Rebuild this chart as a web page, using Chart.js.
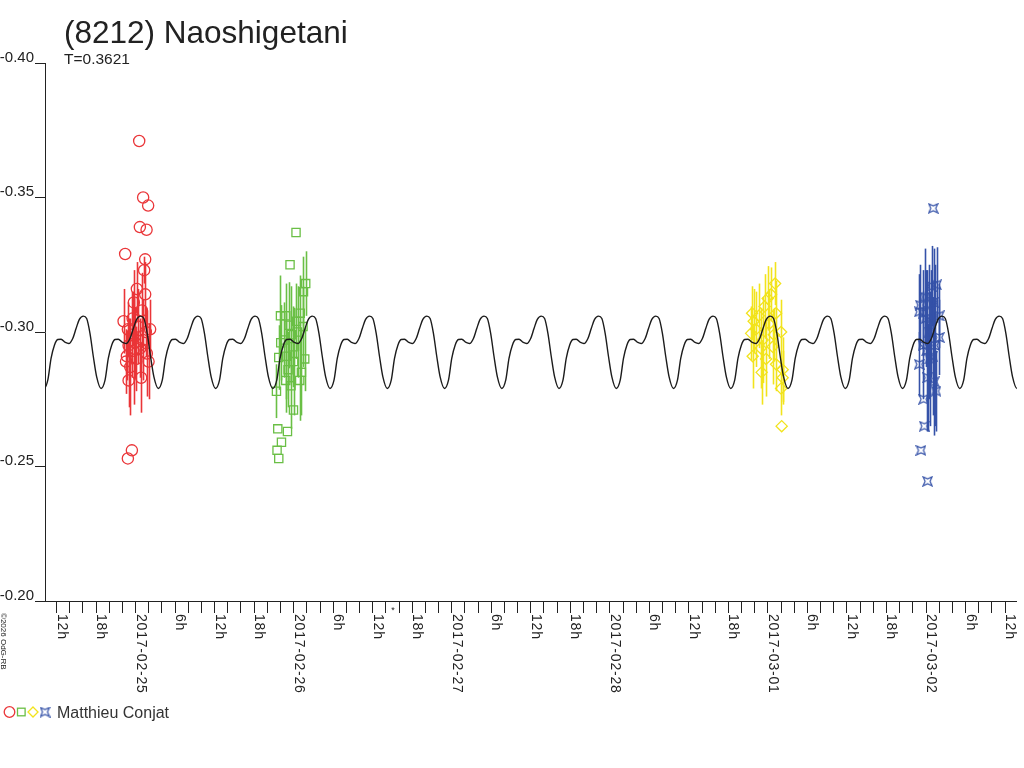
<!DOCTYPE html>
<html><head><meta charset="utf-8">
<script src="https://cdn.jsdelivr.net/npm/chart.js@4.4.1/dist/chart.umd.min.js"></script>
<style>html,body{margin:0;padding:0;background:#fff;}#wrap{width:1024px;height:768px;position:relative;}</style>
</head><body><div id="wrap"><canvas id="c" width="1024" height="768"></canvas></div>
<script>
// ---- text ----
const titleText = '(8212) Naoshigetani';
const subtitleText = 'T=0.3621';
const observerName = 'Matthieu Conjat';
const copyrightText = '\u00a92026 OdG-RB';

// ---- axes (time in hours from 2017-02-25 00:00 UT) ----
const xMinHour = -13.75;
const xMaxHour = 133.8;
const dateLabels = ['2017-02-25', '2017-02-26', '2017-02-27', '2017-02-28', '2017-03-01', '2017-03-02'];
const yTicks = [-0.40, -0.35, -0.30, -0.25, -0.20];
const yTickLabels = ['-0.40', '-0.35', '-0.30', '-0.25', '-0.20'];
const markerHour = 39.08;

// ---- model lightcurve: one cycle, period T ----
const periodDays = 0.3621;
const modelPeakHour = -7.93;
const modelPhase = [0, 0.058, 0.116, 0.175, 0.233, 0.309, 0.379, 0.436, 0.495, 0.553, 0.611, 0.686, 0.745, 0.815, 0.873, 0.931];
const modelMag = [-0.3059, -0.3050, -0.2995, -0.2908, -0.2833, -0.2790, -0.2821, -0.2902, -0.2951, -0.2972, -0.2973, -0.2961, -0.2957, -0.2976, -0.3013, -0.3047];

// ---- observations (hours, magnitude, error) ----
const redT = [0.55, 1.15, 1.91, 0.65, 1.67, -1.58, 1.46, 1.30, 0.20, 1.46, 0.96, -0.26, -1.82, 2.21, -1.17, -0.56, -1.06, -0.06, 1.71, -1.32, -1.45, 1.97, 0.85, -1.06, -0.30, 0.40, -0.80, 0.10, 1.10, -0.45, 0.70, 1.55, -0.56, -1.17];
const redMag = [-0.371, -0.350, -0.347, -0.339, -0.338, -0.329, -0.327, -0.323, -0.316, -0.314, -0.308, -0.311, -0.304, -0.301, -0.301, -0.299, -0.295, -0.296, -0.292, -0.291, -0.289, -0.289, -0.283, -0.282, -0.293, -0.302, -0.287, -0.290, -0.297, -0.305, -0.294, -0.300, -0.256, -0.253];
const redErr = [0, 0, 0, 0, 0, 0, 0, 0.005, 0.010, 0.012, 0.014, 0.012, 0.012, 0.011, 0.010, 0.016, 0.010, 0.013, 0.016, 0.009, 0.012, 0.014, 0.013, 0.010, 0.020, 0.014, 0.018, 0.012, 0.015, 0.010, 0.011, 0.009, 0, 0];

const greenT = [24.36, 23.45, 25.83, 25.49, 22.00, 22.80, 23.30, 24.42, 25.42, 22.04, 23.67, 23.91, 21.74, 22.91, 25.68, 23.15, 25.18, 22.80, 24.92, 21.39, 23.97, 21.59, 23.06, 22.15, 21.48, 21.74, 24.60, 24.00, 22.50, 25.00, 23.60];
const greenMag = [-0.337, -0.325, -0.318, -0.315, -0.306, -0.306, -0.3025, -0.304, -0.302, -0.296, -0.299, -0.2945, -0.2905, -0.291, -0.290, -0.286, -0.285, -0.282, -0.282, -0.278, -0.271, -0.264, -0.263, -0.259, -0.256, -0.253, -0.300, -0.289, -0.297, -0.307, -0.280];
const greenErr = [0, 0, 0.012, 0.013, 0.015, 0.012, 0.016, 0.014, 0.015, 0.014, 0.018, 0.015, 0.012, 0.016, 0.012, 0.014, 0.016, 0.012, 0.015, 0.010, 0, 0, 0, 0, 0, 0, 0.017, 0.020, 0.014, 0.014, 0.016];

const yellowT = [97.09, 96.48, 95.97, 93.84, 97.24, 94.20, 98.00, 93.45, 95.20, 96.72, 93.69, 95.72, 97.24, 98.24, 95.05, 98.00, 98.24, 98.09, 94.60, 96.20, 94.90, 96.90, 93.60, 95.50];
const yellowMag = [-0.318, -0.314, -0.3125, -0.304, -0.307, -0.301, -0.300, -0.2995, -0.297, -0.2945, -0.291, -0.290, -0.288, -0.286, -0.285, -0.279, -0.283, -0.265, -0.306, -0.303, -0.294, -0.299, -0.307, -0.3095];
const yellowErr = [0.008, 0.010, 0.012, 0.012, 0.012, 0.014, 0.012, 0.010, 0.016, 0.014, 0.012, 0.014, 0.010, 0.012, 0.012, 0.010, 0.010, 0, 0.012, 0.013, 0.015, 0.010, 0.010, 0.012];

const blueT = [121.10, 121.60, 120.84, 119.84, 119.13, 121.15, 118.98, 119.58, 122.01, 120.75, 120.49, 122.01, 119.58, 120.99, 118.98, 120.24, 121.25, 121.51, 119.63, 119.74, 119.24, 120.24, 120.10, 120.60, 121.30, 120.00];
const blueMag = [-0.346, -0.3175, -0.317, -0.313, -0.310, -0.311, -0.3075, -0.307, -0.306, -0.303, -0.300, -0.298, -0.295, -0.291, -0.288, -0.283, -0.2815, -0.278, -0.275, -0.265, -0.256, -0.2445, -0.293, -0.290, -0.295, -0.305];
const blueErr = [0, 0.014, 0.015, 0.018, 0.015, 0.020, 0.014, 0.016, 0.012, 0.020, 0.025, 0.014, 0.020, 0.022, 0.012, 0.020, 0.020, 0.015, 0, 0, 0, 0, 0.030, 0.025, 0.030, 0.018];

// ---- build ----
const FONT = '"Liberation Sans", Arial, sans-serif';
const COLORS = { red: '#ea3538', green: '#6abf45', yellow: '#f2e31c', blue: '#3552a8', ink: '#222222' };

function pts(T, M) { return T.map((t, i) => ({ x: t, y: M[i] })); }

function makeStar(color, s) {
  const c = document.createElement('canvas'); c.width = s; c.height = s;
  const g = c.getContext('2d'); const m = s / 2, r = s / 2 - 1, k = r * 0.55;
  g.strokeStyle = color; g.lineWidth = 1.2; g.beginPath();
  g.moveTo(m - r, m - r); g.lineTo(m, m - k); g.lineTo(m + r, m - r); g.lineTo(m + k, m);
  g.lineTo(m + r, m + r); g.lineTo(m, m + k); g.lineTo(m - r, m + r); g.lineTo(m - k, m);
  g.closePath(); g.stroke();
  return c;
}
const starImg = makeStar(COLORS.blue, 11);

const periodHours = periodDays * 24;
const modelPoints = [];
for (let k = -3; k <= 18; k++) {
  for (let j = 0; j < modelPhase.length; j++) {
    const t = modelPeakHour + (k + modelPhase[j]) * periodHours;
    if (t >= xMinHour - 6 && t <= xMaxHour + 6) modelPoints.push({ x: t, y: modelMag[j] });
  }
}

const xTickHours = [];
for (let h = -12; h <= 132; h += 2) xTickHours.push(h);
const xLabelItems = [];
for (let h = -12; h <= 132; h += 6) {
  const d = Math.floor(h / 24), rem = h - d * 24;
  xLabelItems.push({ h: h, text: rem === 0 ? dateLabels[d] : rem + 'h' });
}

const errorBarPlugin = {
  id: 'errorBars',
  beforeDatasetsDraw(chart) {
    const ctx = chart.ctx, xs = chart.scales.x, ys = chart.scales.y, a = chart.chartArea;
    ctx.save(); ctx.beginPath(); ctx.rect(a.left, a.top, a.right - a.left, a.bottom - a.top); ctx.clip();
    chart.data.datasets.forEach(ds => {
      if (!ds.errs) return;
      ctx.strokeStyle = ds.borderColor; ctx.lineWidth = 1.6;
      ds.data.forEach((p, i) => {
        const e = ds.errs[i]; if (!e) return;
        const px = Math.round(xs.getPixelForValue(p.x)) + 0.5;
        ctx.beginPath();
        ctx.moveTo(px, ys.getPixelForValue(p.y - e));
        ctx.lineTo(px, ys.getPixelForValue(p.y + e));
        ctx.stroke();
      });
    });
    ctx.restore();
  }
};

const textPlugin = {
  id: 'texts',
  afterDraw(chart) {
    const ctx = chart.ctx, xs = chart.scales.x, ys = chart.scales.y;
    ctx.save();
    // title
    ctx.fillStyle = COLORS.ink; ctx.textAlign = 'left'; ctx.textBaseline = 'alphabetic';
    ctx.font = '31.5px ' + FONT; ctx.fillText(titleText, 64, 43);
    ctx.font = '15.5px ' + FONT; ctx.fillText(subtitleText, 64, 64);
    // y labels
    ctx.font = '15px ' + FONT; ctx.textAlign = 'right';
    yTicks.forEach((v, i) => ctx.fillText(yTickLabels[i], 34, ys.getPixelForValue(v) - 1.5));
    // x labels (rotated clockwise)
    ctx.font = '14px ' + FONT; ctx.textAlign = 'left';
    if ('letterSpacing' in ctx) ctx.letterSpacing = '0.8px';
    const axisY = ys.bottom;
    xLabelItems.forEach(it => {
      const px = xs.getPixelForValue(it.h);
      ctx.save(); ctx.translate(px + 1, axisY + 13); ctx.rotate(Math.PI / 2);
      ctx.fillText(it.text, 0, 0); ctx.restore();
    });
    if ('letterSpacing' in ctx) ctx.letterSpacing = '0px';
    // small marker on axis
    ctx.font = '9px ' + FONT; ctx.textAlign = 'center';
    ctx.fillText('*', xs.getPixelForValue(markerHour), axisY + 12);
    // copyright
    ctx.save(); ctx.translate(1, axisY + 12); ctx.rotate(Math.PI / 2);
    ctx.font = '8px ' + FONT; ctx.textAlign = 'left'; ctx.fillText(copyrightText, 0, 0); ctx.restore();
    // legend
    const ly = 712;
    ctx.lineWidth = 1.3;
    ctx.strokeStyle = COLORS.red; ctx.beginPath(); ctx.arc(9.5, ly, 5.3, 0, Math.PI * 2); ctx.stroke();
    ctx.strokeStyle = COLORS.green; ctx.strokeRect(17.5, ly - 3.8, 7.6, 7.6);
    ctx.strokeStyle = COLORS.yellow; ctx.beginPath();
    ctx.moveTo(33, ly - 5); ctx.lineTo(38, ly); ctx.lineTo(33, ly + 5); ctx.lineTo(28, ly); ctx.closePath(); ctx.stroke();
    ctx.drawImage(starImg, 45 - 5.5, ly - 5.5);
    ctx.fillStyle = '#333'; ctx.font = '16px ' + FONT; ctx.textAlign = 'left';
    ctx.fillText(observerName, 57, ly + 6);
    ctx.restore();
  }
};

const scatterBase = { type: 'scatter', order: 1, showLine: false, pointBorderWidth: 1.3, pointBackgroundColor: 'rgba(0,0,0,0)' };

new Chart(document.getElementById('c'), {
  type: 'scatter',
  data: {
    datasets: [
      { type: 'line', label: 'model', order: 0, data: modelPoints, borderColor: '#1c1c1c', borderWidth: 1.4,
        pointRadius: 0, cubicInterpolationMode: 'monotone', fill: false },
      Object.assign({}, scatterBase, { label: 'red', data: pts(redT, redMag), errs: redErr, borderColor: COLORS.red,
        pointBorderColor: COLORS.red, pointStyle: 'circle', pointRadius: 5.6 }),
      Object.assign({}, scatterBase, { label: 'green', data: pts(greenT, greenMag), errs: greenErr, borderColor: COLORS.green,
        pointBorderColor: COLORS.green, pointStyle: 'rect', pointRadius: 5.8 }),
      Object.assign({}, scatterBase, { label: 'yellow', data: pts(yellowT, yellowMag), errs: yellowErr, borderColor: COLORS.yellow,
        pointBorderColor: COLORS.yellow, pointStyle: 'rectRot', pointRadius: 5.6 }),
      Object.assign({}, scatterBase, { label: 'blue', data: pts(blueT, blueMag), errs: blueErr, borderColor: COLORS.blue,
        pointBorderColor: COLORS.blue, pointStyle: starImg, pointRadius: 5 })
    ]
  },
  options: {
    responsive: false, animation: false, devicePixelRatio: 1,
    layout: { padding: { left: 35, right: 7, top: 63, bottom: 155 } },
    plugins: { legend: { display: false }, tooltip: { enabled: false }, title: { display: false } },
    scales: {
      x: { type: 'linear', min: xMinHour, max: xMaxHour,
        afterBuildTicks: s => { s.ticks = xTickHours.map(v => ({ value: v })); },
        ticks: { display: false },
        grid: { display: true, drawOnChartArea: false, drawTicks: true, tickLength: 12, color: COLORS.ink, lineWidth: 1 },
        border: { display: true, color: COLORS.ink, width: 1 } },
      y: { type: 'linear', min: -0.40, max: -0.20, reverse: true,
        afterBuildTicks: s => { s.ticks = yTicks.map(v => ({ value: v })); },
        ticks: { display: false },
        grid: { display: true, drawOnChartArea: false, drawTicks: true, tickLength: 10, color: COLORS.ink, lineWidth: 1 },
        border: { display: true, color: COLORS.ink, width: 1 } }
    }
  },
  plugins: [errorBarPlugin, textPlugin]
});
</script></body></html>
